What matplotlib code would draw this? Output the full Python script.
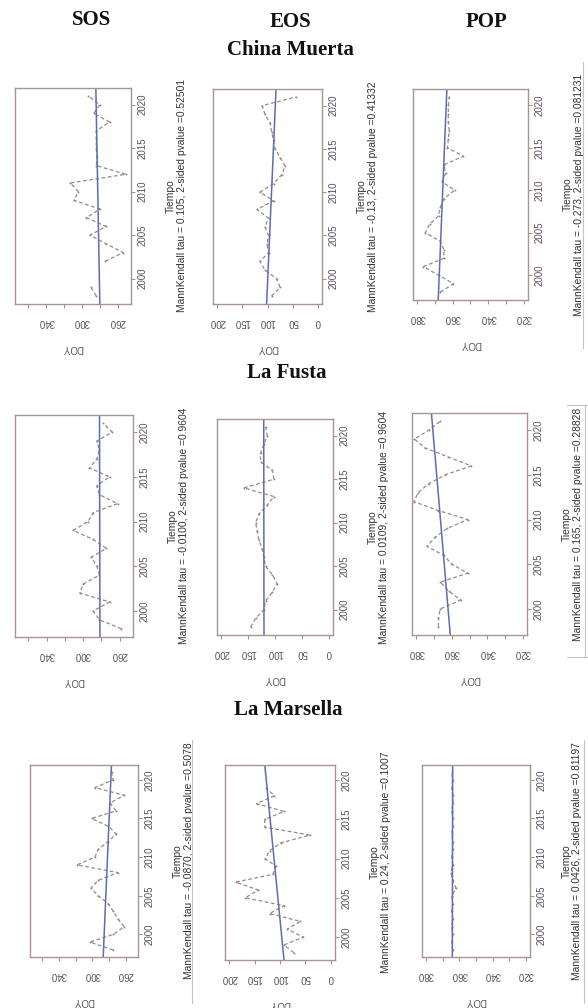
import numpy as np
import matplotlib
matplotlib.use('Agg')
import matplotlib.pyplot as plt
from matplotlib.lines import Line2D

nan = np.nan

# ---------------- data ----------------
years = list(range(1998, 2022))
year_ticks = [2000, 2005, 2010, 2015, 2020]
trend_years = [1997, 2022]

col_titles = ['SOS', 'EOS', 'POP']
site_names = ['China Muerta', 'La Fusta', 'La Marsella']

# China Muerta
sos_cm = [284, 290, nan, nan, 274, 254, 273, 291, 273, 295, 280, 309,
          304, 313, 251, 284, 283, 284, 284, 284, 269, 287, 280, 293]
eos_cm = [92, 75, 82, 105, 115, 98, 101, 98, 105, 98, 121, 88,
          115, 88, 72, 65, 75, 85, 88, 92, 95, 105, 111, 43]
pop_cm = [367, 359.6, 368, 376.5, 365, 365, 367, 375.5, 373, 368, 367, 365,
          359, 366, 364, 365, 354, 363, 362.5, 362, 362.5, 362.5, 362.5, 362]
# La Fusta
sos_lf = [258, 282, 289, 271, 303.6, 300, 282, 285, 291, 274.5, 289, 311,
          294.5, 289, 262, 282, 285, 271, 293, 285, 282, 285, 268, 278]
eos_lf = [145.5, 136, 120.7, 117.6, 105, 96, 105, 117.6, 120.7, 124, 130, 133,
          136, 130, 114.5, 102, 158, 102, 105, 127, 127, 120.7, 114.5, 117.6]
pop_lf = [367.5, 367.5, 366.5, 355, 361.7, 366.5, 351, 360, 364.6, 374, 369.4, 362.7,
          351, 367.5, 381.3, 379, 373, 363.7, 349, 362, 375, 381, 373, 366.5]
# La Marsella
sos_lm = [275, 302.7, 275, 261.6, 269.4, 275, 281, 293, 301.6, 293, 269.4, 318.4,
          297, 293, 281, 271.4, 281, 300.8, 271.4, 279, 261.6, 297, 275, 277]
eos_lm = [73, 92, 54, 86, 60, 120.6, 92, 168, 143, 187, 114, 108,
          129, 120.6, 98, 41, 130, 130, 92, 146, 111, 127, nan, nan]
pop_lm = [364, 364.5, 364, 364.5, 364, 364.5, 364, 364.5, 362, 364, 365, 364,
          364.5, 364, 364, 364.5, 364, 364, 364.5, 364, 364, 364.5, 364, 364.5]

# Sen's slope trend line values at trend_years
trend_sos_cm = [280, 284.5]
trend_eos_cm = [101.8, 83]
trend_pop_cm = [368.2, 363.3]
trend_sos_lf = [281.5, 282]
trend_eos_lf = [120.5, 121]
trend_pop_lf = [360.8, 371.5]
trend_sos_lm = [287, 277]
trend_eos_lm = [92, 130]
trend_pop_lm = [364.2, 364]

mk_texts = [
    ['MannKendall tau = 0.105, 2-sided pvalue =0.52501',
     'MannKendall tau = -0.13, 2-sided pvalue =0.41332',
     'MannKendall tau = -0.273, 2-sided pvalue =0.081231'],
    ['MannKendall tau = -0.0100, 2-sided pvalue =0.9604',
     'MannKendall tau = 0.0109, 2-sided pvalue =0.9604',
     'MannKendall tau = 0.165, 2-sided pvalue =0.28828'],
    ['MannKendall tau = -0.0870, 2-sided pvalue =0.5078',
     'MannKendall tau = 0.24, 2-sided pvalue =0.1007',
     'MannKendall tau = 0.0426, 2-sided pvalue =0.81197'],
]

sos_ticks = [260, 280, 300, 320, 340, 360]
sos_ticklabels = ['260', '', '300', '', '340', '']
eos_ticks = [0, 50, 100, 150, 200]
eos_ticklabels = ['0', '50', '100', '150', '200']
pop_ticks = [320, 330, 340, 350, 360, 370, 380]
pop_ticklabels = ['320', '', '340', '', '360', '', '380']

series = [[sos_cm, eos_cm, pop_cm], [sos_lf, eos_lf, pop_lf], [sos_lm, eos_lm, pop_lm]]
trends = [[trend_sos_cm, trend_eos_cm, trend_pop_cm],
          [trend_sos_lf, trend_eos_lf, trend_pop_lf],
          [trend_sos_lm, trend_eos_lm, trend_pop_lm]]

# ---------------- layout / style ----------------
W, H = 588, 1008
col_xlim = [(374.8, 245.2), (208, -8), (382.4, 317.6)]
col_ticks = [(sos_ticks, sos_ticklabels), (eos_ticks, eos_ticklabels), (pop_ticks, pop_ticklabels)]
ylim = (1997.08, 2021.92)

rects_px = [
    [(15, 131, 88, 304), (213, 322, 89, 304), (413, 528, 89, 300)],
    [(15, 133, 415, 637), (217, 333, 419, 635), (412, 527, 413, 635)],
    [(30, 138, 765, 957), (225, 335, 765, 960), (422, 530, 765, 957)],
]
# offsets (px) of the "Tiempo" and MannKendall lines from the right frame
label_offsets = [
    [(40, 51), (40, 51), (40, 51)],
    [(40, 51), (40, 51), (40, 51)],
    [(40, 51), (40, 51), (37, 47)],
]

frame_c = '#a8958f'
dash_c = '#9c8985'
blue_c = '#5b6db5'
tick_c = '#555555'
txt_c = '#333333'
PX = 0.72  # points per pixel at dpi 100

plt.rcParams['font.family'] = ['Liberation Sans', 'DejaVu Sans']

fig = plt.figure(figsize=(W / 100, H / 100), dpi=100)
fig.patch.set_facecolor('white')

for r in range(3):
    for c in range(3):
        x0, x1, yt, yb = rects_px[r][c]
        ax = fig.add_axes([x0 / W, 1 - yb / H, (x1 - x0) / W, (yb - yt) / H])
        ax.plot(series[r][c], years, linestyle=(0, (3, 2)), color=dash_c, lw=0.9,
                marker='o', ms=1.4, mew=0)
        ax.plot(trends[r][c], trend_years, color=blue_c, lw=1.1)
        ax.set_xlim(col_xlim[c])
        ax.set_ylim(ylim)
        ticks, labels = col_ticks[c]
        ax.set_xticks(ticks)
        ax.set_xticklabels(labels, rotation=180)
        ax.yaxis.tick_right()
        ax.set_yticks(year_ticks)
        ax.set_yticklabels([str(y) for y in year_ticks], rotation=90, va='center')
        ax.tick_params(axis='both', length=2.9, width=0.8, color=frame_c,
                       labelsize=7, labelcolor=tick_c)
        ax.tick_params(axis='x', pad=6.5)
        ax.tick_params(axis='y', pad=1.8)
        for s in ax.spines.values():
            s.set_color(frame_c)
            s.set_linewidth(1.0)
        o1, o2 = label_offsets[r][c]
        ax.annotate('Tiempo', xy=(1, 0.5), xycoords='axes fraction',
                    xytext=(o1 * PX, 0), textcoords='offset points',
                    rotation=90, ha='center', va='center', fontsize=7.4, color=txt_c)
        ax.annotate(mk_texts[r][c], xy=(1, 0.5), xycoords='axes fraction',
                    xytext=(o2 * PX, 0), textcoords='offset points',
                    rotation=90, ha='center', va='center', fontsize=7.4, color=txt_c)
        ax.annotate('DOY', xy=(0.5, 0), xycoords='axes fraction',
                    xytext=(0, -44 * PX), textcoords='offset points',
                    rotation=180, ha='center', va='center', fontsize=7, color=tick_c)

# titles
title_font = dict(family=['Liberation Serif', 'DejaVu Serif'], fontweight='bold',
                  fontsize=15, color='#111111', ha='center', va='center')
col_title_pos = [(92, 20), (290, 22), (487, 22)]
for t, (x, y) in zip(col_titles, col_title_pos):
    fig.text(x / W, 1 - y / H, t, **title_font)
site_pos = [(290, 50), (287, 373), (288, 710)]
for t, (x, y) in zip(site_names, site_pos):
    fig.text(x / W, 1 - y / H, t, **title_font)

# faint panel separator lines from the pasted images
sep = [((583, 583), (62, 348)), ((585, 585), (405, 657)), ((567, 588), (405, 405)),
       ((567, 588), (657, 657)), ((584, 584), (740, 1003)), ((192, 192), (740, 1003))]
for xs, ys in sep:
    fig.add_artist(Line2D([x / W for x in xs], [1 - y / H for y in ys],
                          color='#c4c4c4', lw=0.8))

fig.savefig('out.png', dpi=100, facecolor='white')
